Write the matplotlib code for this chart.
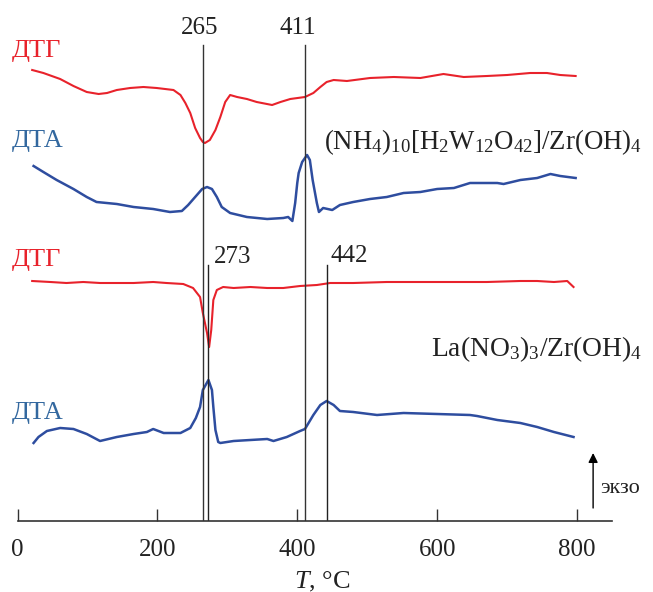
import matplotlib
matplotlib.use("Agg")
import matplotlib.pyplot as plt

plt.rcParams['font.family'] = ['Liberation Serif', 'DejaVu Serif']
plt.rcParams['mathtext.fontset'] = 'custom'
plt.rcParams['mathtext.rm'] = 'Liberation Serif'
plt.rcParams['mathtext.it'] = 'Liberation Serif:italic'

# ---- data (temperature in °C, signal in arbitrary units) ----
dtg1_T = [21, 37, 61, 80, 99, 116, 128, 142, 161, 180, 199, 223, 233, 240, 247, 254, 261, 265, 268, 275, 283, 290, 297, 304,
          314, 328, 342, 364, 376, 390, 411, 423, 433, 442, 452, 471, 504, 538, 576, 609, 638, 671, 700, 733, 757, 776, 798]
dtg1_y = [451, 448, 442, 435, 429, 427, 428, 431, 433, 434, 433, 431, 426, 418, 408, 393, 383, 379, 378, 381, 391, 404, 419, 426,
          424, 422, 419, 416, 419, 422, 424, 428, 434, 439, 441, 440, 443, 444, 443, 447, 444, 445, 446, 448, 448, 446, 445]

dta1_T = [23, 37, 56, 80, 99, 113, 142, 166, 194, 218, 235, 244, 254, 264, 271, 278, 285, 292, 304, 328, 357, 380, 387, 393,
          397, 400, 402, 407, 414, 418, 422, 428, 431, 437, 450, 461, 480, 504, 528, 552, 576, 600, 624, 647, 686, 695, 719, 743, 762, 776, 798]
dta1_y = [355, 349, 341, 332, 324, 319, 317, 314, 312, 309, 310, 316, 324, 332, 334, 332, 324, 314, 308, 304, 302, 303, 304, 300,
          318, 338, 348, 359, 366, 361, 341, 318, 309, 313, 311, 316, 319, 322, 324, 328, 329, 332, 333, 338, 338, 337, 341, 343, 347, 345, 343]

dtg2_T = [21, 47, 70, 94, 118, 142, 166, 194, 213, 237, 251, 261, 265, 271, 274, 277, 280, 285, 294, 309, 333, 357, 380,
          404, 428, 447, 480, 528, 576, 624, 671, 719, 743, 767, 786, 795]
dtg2_y = [240, 239, 238, 239, 238, 238, 238, 239, 238, 237, 233, 224, 208, 188, 174, 191, 221, 231, 234, 233, 234, 233, 233,
          235, 236, 238, 238, 239, 239, 239, 239, 240, 240, 239, 240, 234]

dta2_T = [23, 30, 42, 61, 80, 99, 118, 142, 166, 185, 194, 209, 233, 247, 255, 261, 265, 273, 278, 280, 283, 287, 290, 309,
          333, 357, 366, 385, 404, 411, 423, 433, 442, 452, 461, 480, 514, 552, 600, 647, 657, 686, 719, 743, 767, 795]
dta2_y = [78, 84, 90, 93, 92, 87, 80, 84, 87, 89, 92, 88, 88, 93, 103, 114, 131, 141, 131, 114, 91, 79, 78, 80,
          81, 82, 80, 84, 90, 92, 106, 116, 120, 116, 110, 109, 106, 108, 107, 106, 105, 101, 98, 94, 89, 84]

peaks_top = [265, 411]
peaks_bottom = [273, 442]
xticks = [0, 200, 400, 600, 800]

RED = '#e8222b'
BLUE = '#2e4d9f'
BLUE_TXT = '#33689f'
W, H = 653, 592

fig = plt.figure(figsize=(W / 100, H / 100), dpi=100)
ax = fig.add_axes([17.5 / W, (H - 521) / H, 594.5 / W, 521 / H])
ax.set_xlim(0, 850)
ax.set_ylim(0, 521)

ax.plot(dtg1_T, dtg1_y, color=RED, lw=1.5, solid_joinstyle='round')
ax.plot(dta1_T, dta1_y, color=BLUE, lw=1.8, solid_joinstyle='round')
ax.plot(dtg2_T, dtg2_y, color=RED, lw=1.5, solid_joinstyle='round')
ax.plot(dta2_T, dta2_y, color=BLUE, lw=1.8, solid_joinstyle='round')

for p in peaks_top:
    ax.plot([p, p], [0, 476], color='#333333', lw=1.0)
for p in peaks_bottom:
    ax.plot([p, p], [0, 256], color='#222222', lw=1.0)

for sp in ['top', 'right', 'left']:
    ax.spines[sp].set_visible(False)
ax.spines['bottom'].set_color('#333333')
ax.spines['bottom'].set_linewidth(1.2)
ax.set_yticks([])
ax.set_xticks(xticks)
ax.set_xticklabels([str(t) for t in xticks])
ax.tick_params(axis='x', direction='in', length=8.5, width=1.0, color='#333333',
               pad=13, labelsize=18, labelcolor='#222222')

def ftext(x, y, s, **kw):
    fig.text(x / W, 1 - y / H, s, **kw)

fs = 18
ftext(12, 57, 'ДТГ', color=RED, fontsize=19, va='baseline')
ftext(12, 147, 'ДТА', color=BLUE_TXT, fontsize=19, va='baseline')
ftext(12, 266, 'ДТГ', color=RED, fontsize=19, va='baseline')
ftext(12, 419, 'ДТА', color=BLUE_TXT, fontsize=19, va='baseline')

ftext(200, 34, str(peaks_top[0]), fontsize=fs, ha='center', va='baseline', color='#222222')
ftext(298, 34, str(peaks_top[1]), fontsize=fs, ha='center', va='baseline', color='#222222')
ftext(233, 263, str(peaks_bottom[0]), fontsize=fs, ha='center', va='baseline', color='#222222')
ftext(349, 262, str(peaks_bottom[1]), fontsize=fs, ha='center', va='baseline', color='#222222')

ftext(642, 149, r'$\mathregular{(NH_4)_{10}[H_2W_{12}O_{42}]/Zr(OH)_4}$', fontsize=19.3,
      ha='right', va='baseline', color='#222222')
ftext(642, 356, r'$\mathregular{La(NO_3)_3/Zr(OH)_4}$', fontsize=19.8,
      ha='right', va='baseline', color='#222222')

ftext(600, 493, 'экзо', fontsize=16, ha='left', va='baseline', color='#222222')
ax.annotate('', xy=(823, 68), xytext=(823, 13),
            arrowprops=dict(arrowstyle='-|>', color='black', lw=1.0,
                            mutation_scale=14, shrinkA=0, shrinkB=0))

ftext(322, 588, r'$\mathit{T}$, °C', fontsize=19, ha='center', va='baseline', color='#222222')

fig.savefig('out.png', dpi=100)
